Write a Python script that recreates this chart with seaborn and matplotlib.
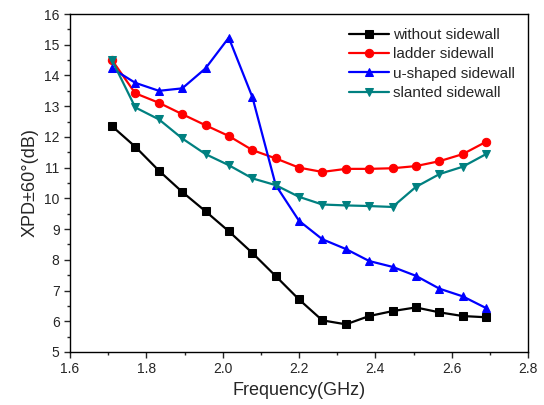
import numpy as np
import pandas as pd
import seaborn as sns
import matplotlib.pyplot as plt
from matplotlib.ticker import MultipleLocator

# frecuencias (GHz) y XPD
freq = [1.71, 1.771, 1.833, 1.894, 1.955, 2.016, 2.078, 2.139, 2.20,
        2.261, 2.323, 2.384, 2.445, 2.506, 2.568, 2.629, 2.69]
without_sw = [12.35, 11.68, 10.90, 10.21, 9.58, 8.93, 8.22, 7.47, 6.71,
              6.03, 5.90, 6.17, 6.33, 6.45, 6.29, 6.17, 6.13]
ladder_sw = [14.50, 13.42, 13.11, 12.74, 12.38, 12.03, 11.57, 11.30, 11.00,
             10.86, 10.96, 10.96, 10.98, 11.05, 11.21, 11.44, 11.84]
ushaped_sw = [14.23, 13.76, 13.50, 13.58, 14.23, 15.23, 13.29, 10.43, 9.27,
              8.67, 8.35, 7.96, 7.77, 7.48, 7.06, 6.81, 6.43]
slanted_sw = [14.50, 12.96, 12.57, 11.95, 11.44, 11.08, 10.65, 10.43, 10.05,
              9.80, 9.77, 9.75, 9.72, 10.37, 10.79, 11.03, 11.44]

series = [
    ("without sidewall", without_sw, "black", "s"),
    ("ladder sidewall", ladder_sw, "#ff0000", "o"),
    ("u-shaped sidewall", ushaped_sw, "#0000ff", "^"),
    ("slanted sidewall", slanted_sw, "#008080", "v"),
]

sns.set_style("ticks")
plt.rcParams['font.family'] = ['Liberation Sans', 'DejaVu Sans']

fig, ax = plt.subplots(figsize=(5.44, 4.05), dpi=100)
fig.subplots_adjust(left=0.1287, right=0.9706, top=0.9654, bottom=0.1309)

for name, vals, col, mk in series:
    df = pd.DataFrame({"f": freq, "xpd": vals})
    sns.lineplot(data=df, x="f", y="xpd", ax=ax, color=col, marker=mk,
                 markersize=6, markeredgecolor=col, linewidth=1.6, label=name)

ax.set_xlim(1.6, 2.8)
ax.set_ylim(5, 16)
ax.xaxis.set_major_locator(MultipleLocator(0.2))
ax.xaxis.set_minor_locator(MultipleLocator(0.1))
ax.yaxis.set_major_locator(MultipleLocator(1))
ax.yaxis.set_minor_locator(MultipleLocator(0.5))
ax.xaxis.set_major_formatter(plt.FormatStrFormatter('%.1f'))
ax.tick_params(which='major', direction='out', length=4, width=1, labelsize=10)
ax.tick_params(which='minor', direction='out', length=2.5, width=1)
for sp in ax.spines.values():
    sp.set_visible(True)
    sp.set_linewidth(1)
    sp.set_color('black')

ax.set_xlabel("Frequency(GHz)", fontsize=13)
ax.set_ylabel("XPD±60°(dB)", fontsize=13)

ax.legend(loc='upper right', frameon=False, fontsize=11, handlelength=2.6,
          handletextpad=0.3, labelspacing=0.35, borderaxespad=0.3,
          bbox_to_anchor=(0.995, 0.99))

plt.savefig("out.png", dpi=100)
